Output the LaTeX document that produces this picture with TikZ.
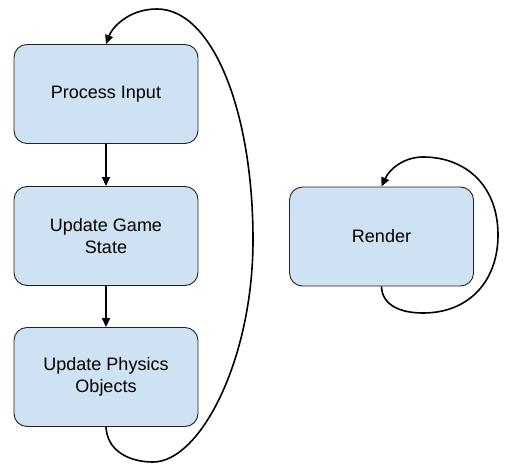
\documentclass[tikz,border=0pt]{standalone}
\usepackage{fontspec}
\setmainfont{Liberation Sans}
\usetikzlibrary{arrows.meta}
\definecolor{boxfill}{HTML}{CFE2F3}
\definecolor{boxline}{HTML}{222222}
\begin{document}
\begin{tikzpicture}[x=1pt,y=-1pt,
  stepbox/.style={draw=boxline,fill=boxfill,line width=0.9pt,rounded corners=13pt,
    minimum width=184pt,minimum height=99pt,align=center,inner sep=0pt,
    font=\fontsize{18}{22}\selectfont},
  conn/.style={line width=1.6pt,-{Triangle[length=9pt,width=8pt]}}]
\useasboundingbox (0,0) rectangle (510,473);
\node[stepbox] (pi) at (106,94) {Process Input};
\node[stepbox] (gs) at (106,236) {Update Game\\State};
\node[stepbox] (upo) at (106,377) {Update Physics\\Objects};
\node[stepbox] (r) at (381.5,236.5) {Render};
\draw[conn] (pi.south) -- (gs.north);
\draw[conn] (gs.south) -- (upo.north);
\draw[conn] (upo.south) .. controls (107,450) and (128,462) .. (153,462)
  .. controls (200,462) and (253,360) .. (253,240)
  .. controls (253,110) and (212,9) .. (157,9)
  .. controls (128,9) and (112,28) .. (pi.north);
\draw[conn] (r.south) .. controls (382,305) and (400,313) .. (423,313)
  .. controls (470,313) and (498,280) .. (498,235)
  .. controls (498,185) and (465,157) .. (423,157)
  .. controls (405,157) and (390,168) .. (r.north);
\end{tikzpicture}
\end{document}
